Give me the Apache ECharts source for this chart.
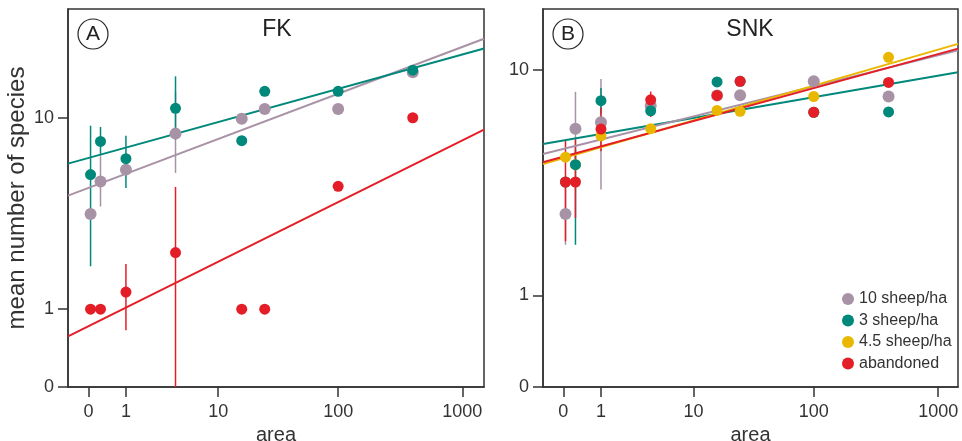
<!DOCTYPE html>
<html>
<head>
<meta charset="utf-8">
<script src="https://cdn.jsdelivr.net/npm/echarts@6/dist/echarts.min.js"></script>
<style>
html,body{margin:0;padding:0;background:#fff;}
#chart{width:962px;height:441px;}
</style>
</head>
<body>
<div id="chart"></div>
<script>
// ---------- data ----------
const xTickValues = [0, 1, 10, 100, 1000];
const xTickLabels = ['0', '1', '10', '100', '1000'];
const yTickValues = [0, 1, 10];
const yTickLabels = ['0', '1', '10'];

const areas = [0.04, 0.25, 1, 4, 16, 25, 100, 400];

// Panel A (FK)
const fk10 = [3.67, 5.24, 5.93, 8.55, 9.91, 10.9, 10.9, 15.5];
const fk3 = [5.63, 7.91, 6.64, 10.96, 7.97, 12.92, 12.92, 15.8];
const fkAb = [1.0, 1.0, 1.33, 2.31, 1.0, 1.0, 4.97, 10.0];
// error bars [area, low, high]
const errFK10 = [[0.25, 3.99, 6.80], [4, 5.73, 12.88]];
const errFK3 = [[0.04, 1.93, 9.25], [0.25, 6.85, 9.13], [1, 4.89, 8.38], [4, 8.05, 14.9]];
const errFKAb = [[1, 0.656, 1.99], [4, 0, 4.94]];
// fitted lines: value at left edge, value at right edge
const fitFK10 = [4.50, 21.23];
const fitFK3 = [6.31, 19.37];
const fitFKAb = [0.57, 8.89];

// Panel B (SNK)
const snk10 = [2.70, 6.05, 6.40, 7.39, 8.06, 8.08, 9.08, 7.99];
const snk3 = [3.71, 4.37, 7.71, 7.07, 9.04, 9.08, 6.98, 7.0];
const snk45 = [4.68, 4.37, 5.68, 6.05, 7.09, 7.04, 7.99, 11.09];
const snkAb = [3.71, 3.71, 6.03, 7.77, 8.06, 9.08, 6.98, 9.0];
const errSNK10 = [[0.04, 1.93, 3.62], [0.25, 4.34, 8.31], [1, 3.45, 9.27]];
const errSNK3 = [[0.25, 1.93, 5.02], [1, 6.91, 8.59]];
const errSNKAb = [[0.04, 2.01, 5.44], [0.25, 2.59, 5.49], [1, 4.94, 7.25], [4, 6.70, 8.33]];
const fitSNK10 = [4.82, 11.74];
const fitSNK3 = [5.28, 9.79];
const fitSNK45 = [4.40, 12.38];
const fitSNKAb = [4.47, 11.91];

const seriesNames = ['10 sheep/ha', '3 sheep/ha', '4.5 sheep/ha', 'abandoned'];

// ---------- styling ----------
const C_MAUVE = '#a892a6';
const C_TEAL = '#00897a';
const C_YELLOW = '#eab700';
const C_RED = '#e41e26';
const FONT = "'Liberation Sans', Arial, sans-serif";
const AXC = '#333';

const t = v => Math.log10(v + 1);
const X_RANGES = [[-0.164, 3.175], [-0.163, 3.159]];
const Y_RANGES = [[0, 1.462], [0, 1.241]];

function fmtFrom(vals, labels) {
  const tv = vals.map(t);
  return function (v) {
    for (let i = 0; i < tv.length; i++) if (Math.abs(tv[i] - v) < 1e-6) return labels[i];
    return '';
  };
}

function xAxis(gi) {
  return {
    type: 'value', gridIndex: gi, min: X_RANGES[gi][0], max: X_RANGES[gi][1],
    name: 'area', nameLocation: 'middle', nameGap: 33,
    nameTextStyle: { fontFamily: FONT, fontSize: 20, color: AXC },
    axisLine: { show: true, onZero: false, lineStyle: { color: AXC, width: 1.5 } },
    axisTick: { show: true, inside: false, length: 10, customValues: xTickValues.map(t), lineStyle: { color: AXC, width: 1.5 } },
    axisLabel: { customValues: xTickValues.map(t), formatter: fmtFrom(xTickValues, xTickLabels), margin: 16, fontFamily: FONT, fontSize: 18, color: AXC },
    splitLine: { show: false }
  };
}
function yAxis(gi, withName) {
  return {
    type: 'value', gridIndex: gi, min: Y_RANGES[gi][0], max: Y_RANGES[gi][1],
    name: withName ? 'mean number of species' : '', nameLocation: 'middle', nameGap: 39, nameRotate: 90,
    nameTextStyle: { fontFamily: FONT, fontSize: 24, color: AXC },
    axisLine: { show: true, onZero: false, lineStyle: { color: AXC, width: 1.5 } },
    axisTick: { show: true, inside: false, length: 10, customValues: yTickValues.map(t), lineStyle: { color: AXC, width: 1.5 } },
    axisLabel: { customValues: yTickValues.map(t), formatter: fmtFrom(yTickValues, yTickLabels), margin: 14, fontFamily: FONT, fontSize: 18, color: AXC },
    splitLine: { show: false }
  };
}

function scatter(name, gi, vals, color, size, z) {
  return {
    type: 'scatter', name: name, xAxisIndex: gi, yAxisIndex: gi,
    data: areas.map((a, i) => [t(a), t(vals[i])]),
    symbol: 'circle', symbolSize: size, itemStyle: { color: color, opacity: 1 },
    z: z, silent: true
  };
}
function errbars(name, gi, arr, color, z) {
  return {
    type: 'custom', name: 'err ' + name, xAxisIndex: gi, yAxisIndex: gi, z: z, silent: true,
    data: arr.map(e => [t(e[0]), t(e[1]), t(e[2])]),
    encode: { x: 0, y: [1, 2] },
    itemStyle: { color: color },
    renderItem: function (params, api) {
      const p1 = api.coord([api.value(0), api.value(1)]);
      const p2 = api.coord([api.value(0), api.value(2)]);
      return { type: 'line', shape: { x1: p1[0], y1: p1[1], x2: p2[0], y2: p2[1] }, style: { stroke: color, lineWidth: 1.5 } };
    }
  };
}
function fit(name, gi, ends, color, z) {
  return {
    type: 'line', name: 'fit ' + name, xAxisIndex: gi, yAxisIndex: gi, z: z, silent: true,
    data: [[X_RANGES[gi][0], t(ends[0])], [X_RANGES[gi][1], t(ends[1])]],
    showSymbol: false, symbol: 'none', lineStyle: { color: color, width: 2 }, itemStyle: { color: color },
    clip: true
  };
}

const gridBase = { top: 9, height: 378, show: true, borderColor: AXC, borderWidth: 1.5, backgroundColor: 'transparent', containLabel: false, outerBoundsMode: 'none' };

const chart = echarts.init(document.getElementById('chart'), null, { renderer: 'canvas' });
chart.setOption({
  animation: false,
  backgroundColor: '#fff',
  grid: [
    Object.assign({ left: 68, width: 416 }, gridBase),
    Object.assign({ left: 543, width: 415 }, gridBase)
  ],
  xAxis: [xAxis(0), xAxis(1)],
  yAxis: [yAxis(0, true), yAxis(1, false)],
  legend: {
    orient: 'vertical', left: 837, top: 286, itemWidth: 12, itemHeight: 12, itemGap: 5.5,
    icon: 'circle', selectedMode: false,
    textStyle: { fontFamily: FONT, fontSize: 16, color: AXC, lineHeight: 16, padding: [0, 0, 0, 0] },
    data: seriesNames
  },
  graphic: [
    { type: 'circle', shape: { cx: 93, cy: 34, r: 15 }, style: { fill: 'none', stroke: '#222', lineWidth: 1.2 } },
    { type: 'text', x: 93, y: 34, style: { text: 'A', fontFamily: FONT, fontSize: 21, fill: '#222', align: 'center', verticalAlign: 'middle' } },
    { type: 'circle', shape: { cx: 568, cy: 34, r: 15 }, style: { fill: 'none', stroke: '#222', lineWidth: 1.2 } },
    { type: 'text', x: 568, y: 34, style: { text: 'B', fontFamily: FONT, fontSize: 21, fill: '#222', align: 'center', verticalAlign: 'middle' } },
    { type: 'text', x: 277, y: 30, style: { text: 'FK', fontFamily: FONT, fontSize: 23, fill: '#222', align: 'center', verticalAlign: 'middle' } },
    { type: 'text', x: 750, y: 30, style: { text: 'SNK', fontFamily: FONT, fontSize: 23, fill: '#222', align: 'center', verticalAlign: 'middle' } }
  ],
  series: [
    // Panel A
    errbars(seriesNames[0], 0, errFK10, C_MAUVE, 2),
    errbars(seriesNames[1], 0, errFK3, C_TEAL, 3),
    errbars(seriesNames[3], 0, errFKAb, C_RED, 3),
    fit(seriesNames[0], 0, fitFK10, C_MAUVE, 4),
    fit(seriesNames[1], 0, fitFK3, C_TEAL, 4),
    fit(seriesNames[3], 0, fitFKAb, C_RED, 4),
    scatter(seriesNames[0], 0, fk10, C_MAUVE, 12, 5),
    scatter(seriesNames[1], 0, fk3, C_TEAL, 11, 6),
    scatter(seriesNames[3], 0, fkAb, C_RED, 11, 7),
    // Panel B
    errbars(seriesNames[0], 1, errSNK10, C_MAUVE, 2),
    errbars(seriesNames[1], 1, errSNK3, C_TEAL, 2),
    errbars(seriesNames[3], 1, errSNKAb, C_RED, 3),
    fit(seriesNames[1], 1, fitSNK3, C_TEAL, 4),
    fit(seriesNames[0], 1, fitSNK10, C_MAUVE, 4),
    fit(seriesNames[2], 1, fitSNK45, C_YELLOW, 4),
    fit(seriesNames[3], 1, fitSNKAb, C_RED, 4),
    scatter(seriesNames[0], 1, snk10, C_MAUVE, 12, 5),
    scatter(seriesNames[2], 1, snk45, C_YELLOW, 11, 5),
    scatter(seriesNames[1], 1, snk3, C_TEAL, 11, 6),
    scatter(seriesNames[3], 1, snkAb, C_RED, 11, 7)
  ]
});
</script>
</body>
</html>
